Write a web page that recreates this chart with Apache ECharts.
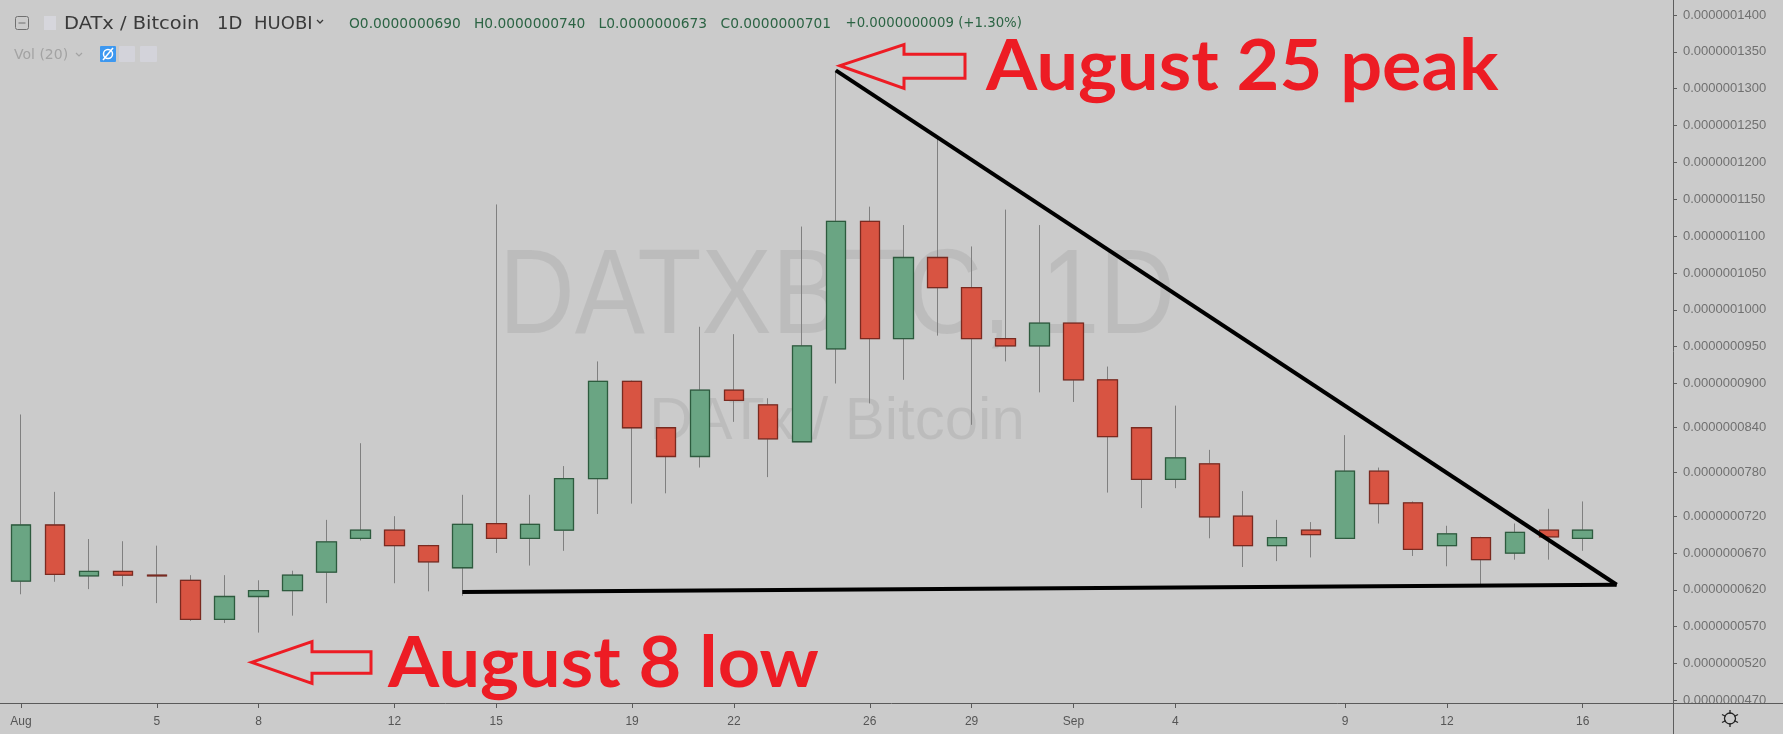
<!DOCTYPE html>
<html><head><meta charset="utf-8">
<script src="https://cdn.jsdelivr.net/npm/echarts@6/dist/echarts.min.js"></script>
<style>html,body{margin:0;padding:0;background:#cbcbcb;}#c{width:1783px;height:734px;}</style>
</head><body><div id="c"></div>
<script>
// Prices are stored in units of 1e-10 BTC
const PRICE_UNIT = 1e-10;
const dates = ['Aug 1','Aug 2','Aug 3','Aug 4','Aug 5','Aug 6','Aug 7','Aug 8','Aug 9','Aug 10',
  'Aug 11','Aug 12','Aug 13','Aug 14','Aug 15','Aug 16','Aug 17','Aug 18','Aug 19','Aug 20',
  'Aug 21','Aug 22','Aug 23','Aug 24','Aug 25','Aug 26','Aug 27','Aug 28','Aug 29','Aug 30',
  'Aug 31','Sep 1','Sep 2','Sep 3','Sep 4','Sep 5','Sep 6','Sep 7','Sep 8','Sep 9',
  'Sep 10','Sep 11','Sep 12','Sep 13','Sep 14','Sep 15','Sep 16','Sep 17','Sep 18'];
const openP  = [632,708,639,645,640,633,580,611,619,644, 690,701,680,650,710,690,701,771,903,840,
  801,891,871,821,947,1120,961,1071,1030,961, 951,982,905,840,770,791,720,680,701,690, 781,738,680,691,670,701,690];
const highP  = [858,753,689,686,680,640,640,633,646,715, 819,720,681,749,1143,749,788,930,904,841,
  977,967,880,1113,1325,1140,1115,1233,1086,1136, 1115,982,923,841,870,810,754,715,712,830, 786,740,707,692,710,730,740];
const lowP   = [614,631,621,625,602,578,575,562,585,602, 687,629,618,612,670,653,673,723,737,751,
  786,848,773,821,900,873,905,965,844,930, 888,875,752,731,758,690,651,659,664,690, 710,666,652,628,661,661,673];
const closeP = [708,641,645,640,639,580,611,619,640,685, 701,680,658,709,690,709,771,903,840,801,
  891,877,825,951,1120,961,1071,1030,961,951, 982,905,828,770,799,719,680,691,695,781, 737,675,696,661,698,692,701];
const yTickValues = [470,520,570,620,670,720,780,840,900,950,1000,1050,1100,1150,1200,1250,1300,1350,1400];
const xLabelDates = ['Aug 1','Aug 5','Aug 8','Aug 12','Aug 15','Aug 19','Aug 22','Aug 26','Aug 29','Sep 1','Sep 4','Sep 9','Sep 12','Sep 16'];
const xLabelTexts = ['Aug','5','8','12','15','19','22','26','29','Sep','4','9','12','16'];
const resistanceLine = [['Aug 25',1325],['Sep 17',627]];
const supportLine = [['Aug 14',617],['Sep 17',627]];

const labelMap = {};
xLabelDates.forEach((d,i)=>{labelMap[d]=xLabelTexts[i];});
const wickData = openP.map((o,i)=>[o, closeP[i], lowP[i], highP[i]]);
const bodyData = openP.map((o,i)=>[o, closeP[i], Math.min(o,closeP[i]), Math.max(o,closeP[i])]);

const RED = '#ed1c24';
const chart = echarts.init(document.getElementById('c'), null, {renderer:'canvas'});
const showDate = (i, v) => labelMap[v] !== undefined;
const hdr = (x, y, text, fill, font, extra) => Object.assign({type: 'text', x: x, y: y, silent: true,
  style: {text: text, fill: fill, font: font, verticalAlign: 'middle', textVerticalAlign: 'middle'}}, extra || {});

chart.setOption({
  backgroundColor: '#cbcbcb',
  animation: false,
  grid: {left: 4, right: 115.4, top: 0, bottom: 31, containLabel: false},
  xAxis: {
    type: 'category', data: dates, boundaryGap: true,
    axisLine: {show: false},
    axisTick: {show: true, interval: showDate, alignWithLabel: true, length: 5, lineStyle: {color: '#5a5a5a'}},
    axisLabel: {interval: showDate, formatter: v => labelMap[v] || '', color: '#555555',
      fontFamily: 'Liberation Sans', fontSize: 12, margin: 13},
    splitLine: {show: false}
  },
  yAxis: {
    type: 'value', position: 'right', offset: 5.4, min: 466.5, max: 1420.4,
    axisLine: {show: true, lineStyle: {color: '#5e5e5e', width: 1}},
    axisTick: {show: true, customValues: yTickValues, length: 4, lineStyle: {color: '#5e5e5e'}},
    axisLabel: {customValues: yTickValues, formatter: v => (v * PRICE_UNIT).toFixed(10),
      color: '#707070', fontFamily: 'Liberation Sans', fontSize: 13, margin: 10},
    splitLine: {show: false}
  },
  series: [
    {type: 'candlestick', name: 'wick', data: wickData, barWidth: 20, silent: true,
      itemStyle: {color: 'rgba(0,0,0,0)', color0: 'rgba(0,0,0,0)', borderColor: '#808080', borderColor0: '#808080', borderWidth: 1}},
    {type: 'candlestick', name: 'body', data: bodyData, barWidth: 20, silent: true,
      itemStyle: {color: '#6aa583', color0: '#d85442', borderColor: '#2d5b3e', borderColor0: '#7a2a20', borderWidth: 1.3}},
    {type: 'line', data: resistanceLine, symbol: 'none', silent: true, z: 5,
      lineStyle: {color: '#000', width: 4}},
    {type: 'line', data: supportLine, symbol: 'none', silent: true, z: 5,
      lineStyle: {color: '#000', width: 4}}
  ],
  graphic: [
    // watermarks
    {type: 'text', x: 837, y: 300, scaleX: 0.87, z: -10, silent: true,
      style: {text: 'DATXBTC, 1D', fill: 'rgba(0,0,0,0.07)', font: '121px "Liberation Sans"', textAlign: 'center', verticalAlign: 'middle', textVerticalAlign: 'middle'}},
    {type: 'text', x: 837, y: 422, z: -10, silent: true,
      style: {text: 'DATx / Bitcoin', fill: 'rgba(0,0,0,0.07)', font: '60px "Liberation Sans"', textAlign: 'center', verticalAlign: 'middle', textVerticalAlign: 'middle'}},
    // frame lines
    {type: 'line', z: 50, silent: true, shape: {x1: 0, y1: 703.5, x2: 1783, y2: 703.5}, style: {stroke: '#5a5a5a', lineWidth: 1}},
    {type: 'rect', z: 49, silent: true, shape: {x: 1674, y: 704, width: 109, height: 30}, style: {fill: '#cbcbcb'}},
    {type: 'line', z: 50, silent: true, shape: {x1: 1673.5, y1: 700, x2: 1673.5, y2: 734}, style: {stroke: '#5e5e5e', lineWidth: 1}},
    // gear
    {type: 'line', z: 51, silent: true, shape: {x1: 1730, y1: 710, x2: 1730, y2: 727}, style: {stroke: '#222', lineWidth: 1.3}},
    {type: 'line', z: 51, silent: true, shape: {x1: 1722, y1: 714.5, x2: 1738, y2: 722.5}, style: {stroke: '#222', lineWidth: 1.3}},
    {type: 'line', z: 51, silent: true, shape: {x1: 1722, y1: 722.5, x2: 1738, y2: 714.5}, style: {stroke: '#222', lineWidth: 1.3}},
    {type: 'circle', z: 52, silent: true, shape: {cx: 1730, cy: 718.5, r: 4.8}, style: {fill: '#cbcbcb'}},
    {type: 'circle', z: 53, silent: true, shape: {cx: 1730, cy: 718.5, r: 5.5}, style: {fill: 'none', stroke: '#222', lineWidth: 1.3}},
    // header
    {type: 'rect', silent: true, shape: {x: 15.5, y: 16.5, width: 13, height: 13, r: 2}, style: {fill: 'none', stroke: '#707070', lineWidth: 1}},
    {type: 'line', silent: true, shape: {x1: 18.5, y1: 23, x2: 25.5, y2: 23}, style: {stroke: '#707070', lineWidth: 1}},
    {type: 'rect', silent: true, shape: {x: 44, y: 16, width: 12, height: 14}, style: {fill: '#d6d6dc'}},
    hdr(64, 24, 'DATx / Bitcoin', '#3a3a3a', '18px "DejaVu Sans"', {scaleX: 1.08}),
    hdr(217, 24, '1D', '#3a3a3a', '18px "DejaVu Sans"'),
    hdr(254, 24, 'HUOBI', '#3a3a3a', '18px "DejaVu Sans"'),
    {type: 'polyline', silent: true, shape: {points: [[317, 20], [320, 23], [323, 20]]}, style: {stroke: '#3a3a3a', lineWidth: 1.3}},
    hdr(349, 24, 'O0.0000000690', '#2c6444', '13.8px "DejaVu Sans"'),
    hdr(474, 24, 'H0.0000000740', '#2c6444', '13.8px "DejaVu Sans"'),
    hdr(598.5, 24, 'L0.0000000673', '#2c6444', '13.8px "DejaVu Sans"'),
    hdr(720.5, 24, 'C0.0000000701', '#2c6444', '13.8px "DejaVu Sans"'),
    hdr(845.5, 24, '+0.0000000009 (+1.30%)', '#2c6444', '13.3px "DejaVu Sans"'),
    hdr(14, 55, 'Vol (20)', '#a3a3a3', '14px "DejaVu Sans"'),
    {type: 'polyline', silent: true, shape: {points: [[76, 53], [79, 56], [82, 53]]}, style: {stroke: '#a3a3a3', lineWidth: 1.2}},
    {type: 'rect', silent: true, shape: {x: 100, y: 46, width: 16, height: 16, r: 1}, style: {fill: '#3d98f0'}},
    {type: 'circle', silent: true, shape: {cx: 108, cy: 54, r: 4.5}, style: {fill: 'none', stroke: '#ffffff', lineWidth: 1.5}},
    {type: 'line', silent: true, shape: {x1: 103, y1: 60, x2: 113, y2: 48}, style: {stroke: '#ffffff', lineWidth: 1.5}},
    {type: 'rect', silent: true, shape: {x: 119, y: 46, width: 16, height: 16, r: 1}, style: {fill: '#d3d3da'}},
    {type: 'rect', silent: true, shape: {x: 140, y: 46, width: 17, height: 16, r: 1}, style: {fill: '#d3d3da'}},
    // annotations
    {type: 'polygon', z: 60, silent: true,
      shape: {points: [[840, 65.7], [904, 44.5], [904, 54.3], [965, 54.3], [965, 78.3], [904, 78.3], [904, 88.3]]},
      style: {fill: 'none', stroke: RED, lineWidth: 3, lineJoin: 'miter'}},
    {type: 'text', x: 986, y: 67, scaleX: 1.04, z: 60, silent: true,
      style: {text: 'August 25 peak', fill: RED, font: 'bold 71px Lato', verticalAlign: 'middle', textVerticalAlign: 'middle'}},
    {type: 'polygon', z: 60, silent: true,
      shape: {points: [[251.5, 662.3], [312, 641.7], [312, 651.7], [371, 651.7], [371, 673.3], [312, 673.3], [312, 683.3]]},
      style: {fill: 'none', stroke: RED, lineWidth: 3, lineJoin: 'miter'}},
    {type: 'text', x: 388, y: 664, scaleX: 1.04, z: 60, silent: true,
      style: {text: 'August 8 low', fill: RED, font: 'bold 71px Lato', verticalAlign: 'middle', textVerticalAlign: 'middle'}}
  ]
});
</script></body></html>
